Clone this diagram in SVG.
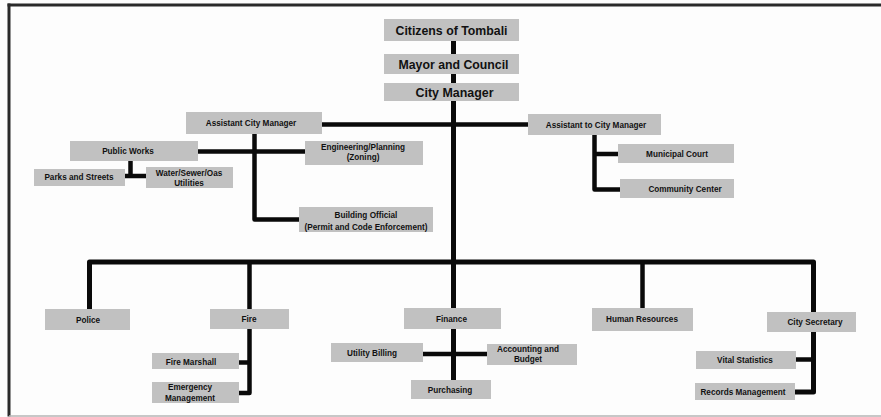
<svg xmlns="http://www.w3.org/2000/svg" width="881" height="417" viewBox="0 0 881 417">
<defs>
<style>
.bx{fill:#c1c1c1}
.t{font-family:"Liberation Sans",Arial,sans-serif;font-weight:bold;fill:#111;text-anchor:middle}
.big{font-size:12px}
.sm{font-size:8.2px}
.ln{fill:none;stroke:#0a0a0a;stroke-width:4.5;stroke-linejoin:round;stroke-linecap:butt}
.main{stroke-width:5}
</style>
</defs>
<rect x="0" y="0" width="881" height="417" fill="#fdfdfd"/>
<g id="frame">
<line x1="9" y1="3.5" x2="9" y2="416.5" stroke="#2a2a2a" stroke-width="3"/>
<line x1="7.5" y1="5" x2="881" y2="5" stroke="#2a2a2a" stroke-width="3"/>
<line x1="9" y1="416" x2="881" y2="416" stroke="#b4b4b4" stroke-width="1.5"/>
</g>
<g id="connectors">
<path class="ln main" d="M453.5 41V54M453.5 74V83M453.5 101V380"/>
<path class="ln" d="M322 124.5H528"/>
<path class="ln" d="M254.5 134V219.5H299"/>
<path class="ln" d="M198 151.5H305"/>
<path class="ln" d="M130.5 161V176M125 176H146"/>
<path class="ln" d="M594.5 135V189.5H620M594.5 154H618"/>
<path class="ln main" d="M89.5 309V262H813.5V392H795"/>
<path class="ln" d="M813.5 359.5H796"/>
<path class="ln" d="M249.5 262V393H239M239 362.5H249.5"/>
<path class="ln" d="M642.5 262V308"/>
<path class="ln" d="M423 354H487"/>
</g>
<g id="citizens"><rect class="bx" x="384" y="19" width="135" height="22"/><text class="t big" x="451.5" y="34.5" textLength="112" lengthAdjust="spacingAndGlyphs">Citizens of Tombali</text></g>
<g id="mayor"><rect class="bx" x="384" y="54" width="135" height="20"/><text class="t big" x="453.5" y="68.5" textLength="110" lengthAdjust="spacingAndGlyphs">Mayor and Council</text></g>
<g id="city-manager"><rect class="bx" x="384" y="83" width="135" height="18"/><text class="t big" x="454.5" y="96.5" textLength="78" lengthAdjust="spacingAndGlyphs">City Manager</text></g>
<g id="assistant-city-manager"><rect class="bx" x="186" y="112" width="136" height="22"/><text class="t sm" x="251" y="126">Assistant City Manager</text></g>
<g id="assistant-to-city-manager"><rect class="bx" x="528" y="114" width="133" height="21"/><text class="t sm" x="596" y="127.5">Assistant to City Manager</text></g>
<g id="public-works"><rect class="bx" x="70" y="141" width="128" height="20"/><text class="t sm" x="128" y="153.5">Public Works</text></g>
<g id="engineering"><rect class="bx" x="305" y="141" width="118" height="24"/><text class="t sm" x="363" y="149.5">Engineering/Planning</text><text class="t sm" x="363" y="159.5">(Zoning)</text></g>
<g id="parks"><rect class="bx" x="34" y="169" width="91" height="17"/><text class="t sm" x="79" y="179.5">Parks and Streets</text></g>
<g id="water"><rect class="bx" x="146" y="167" width="87" height="21"/><text class="t sm" x="189" y="176">Water/Sewer/Oas</text><text class="t sm" x="189" y="185.5">Utilities</text></g>
<g id="building-official"><rect class="bx" x="299" y="207" width="134" height="25"/><text class="t sm" x="366" y="218">Building Official</text><text class="t sm" x="366" y="229.5">(Permit and Code Enforcement)</text></g>
<g id="municipal-court"><rect class="bx" x="618" y="144" width="116" height="19"/><text class="t sm" x="677" y="157">Municipal Court</text></g>
<g id="community-center"><rect class="bx" x="620" y="179" width="114" height="19"/><text class="t sm" x="685" y="192">Community Center</text></g>
<g id="police"><rect class="bx" x="45" y="309" width="85" height="21"/><text class="t sm" x="88" y="323">Police</text></g>
<g id="fire"><rect class="bx" x="210" y="309" width="79" height="20"/><text class="t sm" x="249" y="322">Fire</text></g>
<g id="finance"><rect class="bx" x="404" y="308" width="97" height="21"/><text class="t sm" x="451.5" y="322">Finance</text></g>
<g id="human-resources"><rect class="bx" x="592" y="308" width="101" height="23"/><text class="t sm" x="642" y="322">Human Resources</text></g>
<g id="city-secretary"><rect class="bx" x="767" y="312" width="89" height="20"/><text class="t sm" x="815" y="325">City Secretary</text></g>
<g id="fire-marshall"><rect class="bx" x="152" y="353" width="87" height="16"/><text class="t sm" x="191" y="364.5">Fire Marshall</text></g>
<g id="emergency-management"><rect class="bx" x="152" y="382" width="87" height="21"/><text class="t sm" x="190" y="390">Emergency</text><text class="t sm" x="190" y="400.5">Management</text></g>
<g id="utility-billing"><rect class="bx" x="331" y="343" width="92" height="19"/><text class="t sm" x="372" y="356">Utility Billing</text></g>
<g id="accounting"><rect class="bx" x="487" y="344" width="90" height="21"/><text class="t sm" x="528" y="352">Accounting and</text><text class="t sm" x="528" y="362">Budget</text></g>
<g id="purchasing"><rect class="bx" x="411" y="380" width="80" height="19"/><text class="t sm" x="450" y="392.5">Purchasing</text></g>
<g id="vital-statistics"><rect class="bx" x="696" y="351" width="100" height="18"/><text class="t sm" x="745" y="363">Vital Statistics</text></g>
<g id="records-management"><rect class="bx" x="695" y="383" width="100" height="17"/><text class="t sm" x="743" y="394.5">Records Management</text></g>
</svg>
